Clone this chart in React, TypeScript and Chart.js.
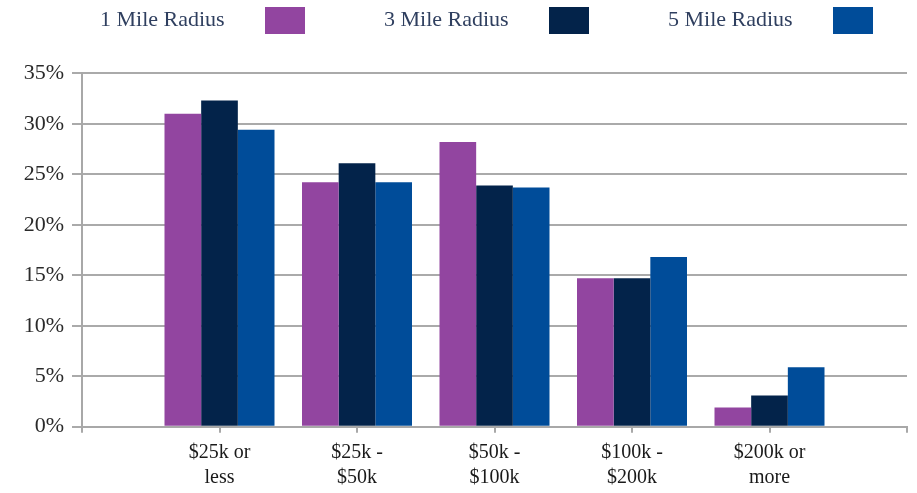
import React, { useEffect, useRef } from "react";
import { Chart, registerables } from "chart.js";

Chart.register(...registerables);

const categories: (string | string[])[] = [
  ["$25k or", "less"],
  ["$25k -", "$50k"],
  ["$50k -", "$100k"],
  ["$100k -", "$200k"],
  ["$200k or", "more"],
];
const seriesNames = ["1 Mile Radius", "3 Mile Radius", "5 Mile Radius"];
const oneMile = [31.0, 24.2, 28.2, 14.7, 1.9];
const threeMile = [32.3, 26.1, 23.9, 14.7, 3.1];
const fiveMile = [29.4, 24.2, 23.7, 16.8, 5.9];
const yTicks = [0, 5, 10, 15, 20, 25, 30, 35];

const colors = ["#9245A0", "#03234A", "#004C99"];
const FONT = "'Liberation Serif', 'DejaVu Serif', serif";

const legendPlugin = {
  id: "customLegend",
  afterDraw(chart: any) {
    const ctx = chart.ctx;
    ctx.save();
    ctx.font = `22px ${FONT}`;
    ctx.textBaseline = "middle";
    ctx.textAlign = "left";
    chart.data.datasets.forEach((ds: any, i: number) => {
      const x = 100 + i * 284;
      ctx.fillStyle = "#2f3f5f";
      ctx.fillText(ds.label, x, 20);
      ctx.fillStyle = ds.backgroundColor;
      ctx.fillRect(x + 165, 7, 40, 27);
    });
    ctx.restore();
  },
};

export default function App() {
  const ref = useRef<HTMLCanvasElement | null>(null);
  useEffect(() => {
    if (!ref.current) return;
    const pad = (arr: number[]) => [null, ...arr, null];
    const chart = new Chart(ref.current, {
      type: "bar",
      data: {
        labels: ["", ...categories, ""] as any,
        datasets: [oneMile, threeMile, fiveMile].map((d, i) => ({
          label: seriesNames[i],
          data: pad(d) as any,
          backgroundColor: colors[i],
          borderWidth: 0,
          categoryPercentage: 0.8,
          barPercentage: 1.0,
        })),
      },
      options: {
        animation: false,
        responsive: false,
        layout: { padding: { top: 73.3, right: 10, left: 0, bottom: 0 } },
        plugins: { legend: { display: false }, tooltip: { enabled: false } },
        scales: {
          x: {
            type: "category",
            offset: false,
            grid: {
              offset: false,
              drawOnChartArea: false,
              color: "#a8a8a8",
              lineWidth: 2,
              tickLength: 6,
            },
            border: { color: "#a8a8a8", width: 2 },
            ticks: {
              autoSkip: false,
              maxRotation: 0,
              minRotation: 0,
              padding: 8,
              color: "#1a1a1a",
              font: { family: FONT, size: 20, lineHeight: "25px" } as any,
            },
            afterFit(scale: any) {
              scale.height = 66.3;
            },
          },
          y: {
            min: 0,
            max: 35,
            afterBuildTicks(scale: any) {
              scale.ticks = yTicks.map((v) => ({ value: v }));
            },
            grid: { color: "#aaaaaa", lineWidth: 2, tickLength: 10 },
            border: { color: "#a8a8a8", width: 2 },
            ticks: {
              padding: 8,
              color: "#2a2a2a",
              font: { family: FONT, size: 22 },
              callback: (v: any) => `${v}%`,
            },
            afterFit(scale: any) {
              scale.width = 82;
            },
          },
        },
      },
      plugins: [legendPlugin],
    });
    return () => chart.destroy();
  }, []);
  return (
    <div style={{ width: 917, height: 493, overflow: "hidden" }}>
      <style>{`body{margin:0;}`}</style>
      <canvas ref={ref} width={917} height={493} />
    </div>
  );
}
